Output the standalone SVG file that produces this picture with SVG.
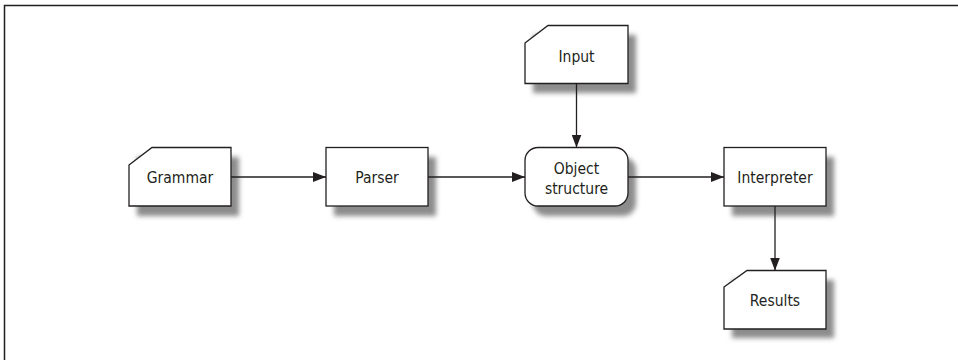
<svg xmlns="http://www.w3.org/2000/svg" width="958" height="360" viewBox="0 0 958 360">
<defs>
<filter id="sh" x="-20%" y="-20%" width="140%" height="140%"><feGaussianBlur stdDeviation="2.5"/></filter>
<marker id="ah" markerWidth="13" markerHeight="10" refX="13" refY="5" orient="auto" markerUnits="userSpaceOnUse"><path d="M0,0 L13,5 L0,10 Z" fill="#231f20"/></marker>
</defs>
<style>
.box{fill:#fff;stroke:#231f20;stroke-width:1.3}
.shadow{fill:#8c8c8c;filter:url(#sh)}
.lbl{font-family:"DejaVu Sans Condensed","Liberation Sans",sans-serif;font-stretch:condensed;font-size:15.5px;fill:#231f20;text-anchor:middle}
.conn{stroke:#231f20;stroke-width:1.3;fill:none;marker-end:url(#ah)}
</style>
<rect x="0" y="0" width="958" height="360" fill="#fff"/>
<path d="M4.5,360 V5.5 H958" fill="none" stroke="#231f20" stroke-width="1.5"/>
<g id="grammar">
<rect class="shadow" x="137" y="157" width="102" height="59"/>
<path class="box" d="M129,165 L152,147.5 H231 V206 H129 Z"/>
<text class="lbl" x="180" y="183">Grammar</text>
</g>
<g id="parser">
<rect class="shadow" x="334" y="157" width="102" height="59"/>
<rect class="box" x="326" y="147.5" width="102" height="58.5"/>
<text class="lbl" x="377" y="183">Parser</text>
</g>
<g id="input">
<rect class="shadow" x="533" y="35" width="103" height="58"/>
<path class="box" d="M525,43 L548,25.5 H628 V83.5 H525 Z"/>
<text class="lbl" x="576.5" y="62">Input</text>
</g>
<g id="object">
<rect class="shadow" x="533" y="157" width="103" height="59" rx="13"/>
<rect class="box" x="525" y="147.5" width="103" height="58.5" rx="13"/>
<text class="lbl" x="576.5" y="174">Object</text>
<text class="lbl" x="576.5" y="194">structure</text>
</g>
<g id="interpreter">
<rect class="shadow" x="732" y="157" width="102" height="59"/>
<rect class="box" x="724" y="147.5" width="102" height="58.5"/>
<text class="lbl" x="775" y="183">Interpreter</text>
</g>
<g id="results">
<rect class="shadow" x="732" y="280" width="102" height="58"/>
<path class="box" d="M724,287 L747,270.5 H826 V329 H724 Z"/>
<text class="lbl" x="775" y="306">Results</text>
</g>
<g id="connectors">
<line class="conn" x1="231" y1="177" x2="326" y2="177"/>
<line class="conn" x1="428" y1="177" x2="525" y2="177"/>
<line class="conn" x1="628" y1="177" x2="724" y2="177"/>
<line class="conn" x1="576.5" y1="83.5" x2="576.5" y2="147.5"/>
<line class="conn" x1="775" y1="206" x2="775" y2="270.5"/>
</g>
</svg>
